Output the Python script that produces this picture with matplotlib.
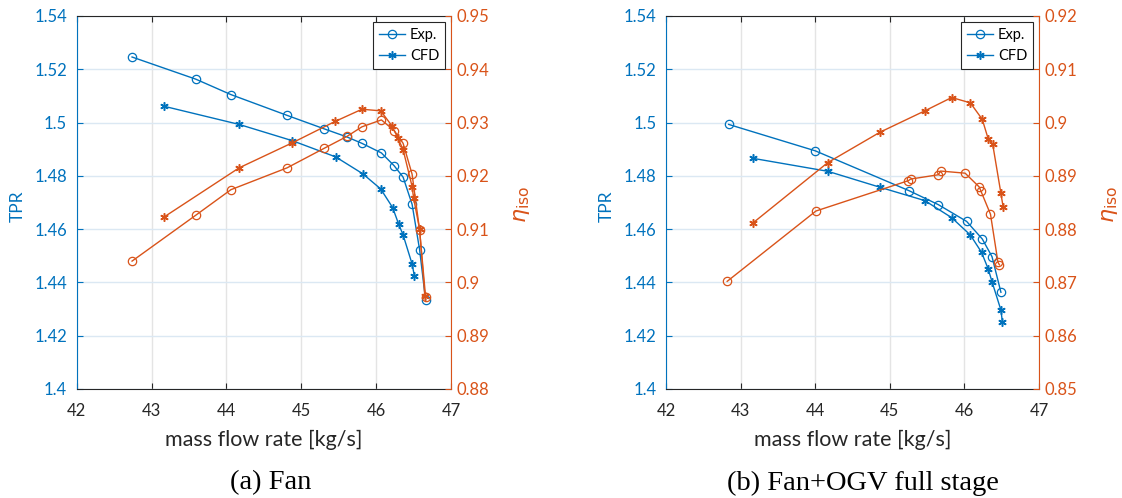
import matplotlib
matplotlib.use('Agg')
import matplotlib.pyplot as plt
from matplotlib.ticker import FuncFormatter, MultipleLocator

BLUE = '#0072BD'
ORANGE = '#D95319'
DARK = '#262626'

plt.rcParams['font.family'] = ['Lato', 'DejaVu Sans']
plt.rcParams['mathtext.fontset'] = 'dejavusans'

# (a) Fan
a_exp_x = [42.74, 43.59, 44.06, 44.81, 45.31, 45.61, 45.81, 46.07, 46.24, 46.36, 46.48, 46.58, 46.66]
a_exp_tpr = [1.5246, 1.5163, 1.5105, 1.5027, 1.4976, 1.4946, 1.4922, 1.4886, 1.4838, 1.4795, 1.4693, 1.4523, 1.4334]
a_exp_eta = [0.9040, 0.9126, 0.9174, 0.9215, 0.9252, 0.9274, 0.9292, 0.9305, 0.9285, 0.9261, 0.9203, 0.9098, 0.8973]
a_cfd_x = [43.17, 44.17, 44.88, 45.46, 45.82, 46.06, 46.22, 46.30, 46.36, 46.48, 46.51]
a_cfd_tpr = [1.5061, 1.4993, 1.4932, 1.4871, 1.4808, 1.4751, 1.4681, 1.4619, 1.4578, 1.4469, 1.4425]
a_cfd_eta_x = [43.17, 44.17, 44.88, 45.45, 45.81, 46.06, 46.21, 46.29, 46.36, 46.48, 46.50, 46.58, 46.65]
a_cfd_eta = [0.9123, 0.9215, 0.9262, 0.9302, 0.9325, 0.9322, 0.9294, 0.9271, 0.9249, 0.9180, 0.9158, 0.9100, 0.8975]

# (b) Fan+OGV full stage
b_exp_x = [42.84, 44.00, 45.26, 45.65, 46.03, 46.24, 46.37, 46.49]
b_exp_tpr = [1.4993, 1.4894, 1.4744, 1.4692, 1.4629, 1.4563, 1.4497, 1.4363]
b_exp_eta_x = [42.82, 44.01, 45.25, 45.28, 45.65, 45.68, 46.01, 46.20, 46.22, 46.35, 46.45, 46.47]
b_exp_eta = [0.8702, 0.8834, 0.8891, 0.8894, 0.8902, 0.8909, 0.8905, 0.8879, 0.8872, 0.8828, 0.8738, 0.8733]
b_cfd_x = [43.16, 44.17, 44.87, 45.47, 45.83, 46.08, 46.23, 46.32, 46.37, 46.49, 46.51]
b_cfd_tpr = [1.4866, 1.4817, 1.4757, 1.4707, 1.4643, 1.4578, 1.4513, 1.4450, 1.4403, 1.4296, 1.4250]
b_cfd_eta_x = [43.16, 44.17, 44.87, 45.47, 45.83, 46.08, 46.24, 46.32, 46.38, 46.49, 46.52]
b_cfd_eta = [0.8811, 0.8925, 0.8982, 0.9022, 0.9047, 0.9037, 0.9006, 0.8969, 0.8959, 0.8867, 0.8841]

gfmt = FuncFormatter(lambda v, pos: '%g' % round(v, 4))
circ = dict(marker='o', mfc='none', ms=6, mew=0.9, lw=1.0)
star = dict(marker=(6, 2, 0), ms=6, mew=1.1, lw=1.0)


def panel(fig, rect, caption, cap_x, ex, etpr, eex, eeta, cx, ctpr, cex, ceta, eta_lim):
    ax = fig.add_axes(rect)
    ax2 = ax.twinx()
    ax.set_xlim(42, 47)
    ax.set_ylim(1.4, 1.54)
    ax2.set_ylim(*eta_lim)
    ax.xaxis.set_major_locator(MultipleLocator(1))
    ax.yaxis.set_major_locator(MultipleLocator(0.02))
    ax2.yaxis.set_major_locator(MultipleLocator(0.01))
    ax.yaxis.set_major_formatter(gfmt)
    ax2.yaxis.set_major_formatter(gfmt)

    ax.set_axisbelow(True)
    ax.grid(axis='x', color='#e4e4e4', lw=1.0)
    ax.grid(axis='y', color='#dbe8f3', lw=1.0)

    l1, = ax.plot(ex, etpr, color=BLUE, label='Exp.', **circ)
    l2, = ax.plot(cx, ctpr, color=BLUE, label='CFD', **star)
    ax2.plot(eex, eeta, color=ORANGE, **circ)
    ax2.plot(cex, ceta, color=ORANGE, **star)

    for s in ['top', 'bottom']:
        ax.spines[s].set_color(DARK)
        ax2.spines[s].set_visible(False)
    ax.spines['left'].set_color(BLUE)
    ax.spines['right'].set_visible(False)
    ax2.spines['left'].set_visible(False)
    ax2.spines['right'].set_color(ORANGE)

    ax.tick_params(axis='x', direction='in', top=True, length=4, color=DARK,
                   labelcolor=DARK, labelsize=12, pad=10)
    ax.tick_params(axis='y', direction='in', length=4, color=BLUE,
                   labelcolor=BLUE, labelsize=12, pad=7)
    ax2.tick_params(axis='y', direction='in', length=4, color=ORANGE,
                    labelcolor=ORANGE, labelsize=12, pad=4)

    ax.set_xlabel('mass flow rate [kg/s]', fontsize=15.5, color=DARK, labelpad=8)
    ax.set_ylabel('TPR', fontsize=12.5, color=BLUE)
    ax.yaxis.set_label_coords(-0.137, 0.49)
    ax2.set_ylabel(r'$\eta_{\rm iso}$', fontsize=16, color=ORANGE)
    ax2.yaxis.set_label_coords(1.163, 0.495)

    leg = ax2.legend(handles=[l1, l2], loc='upper right', bbox_to_anchor=(0.984, 0.983),
                     fontsize=10.5, fancybox=False, framealpha=1, edgecolor=DARK,
                     handlelength=1.8, handletextpad=0.3, borderpad=0.4,
                     labelspacing=0.45, borderaxespad=0)
    leg.get_frame().set_linewidth(0.8)
    for t in leg.get_texts():
        t.set_color('black')

    fig.text(cap_x, 0.03, caption, ha='center', va='center', fontsize=20.5,
             family='Liberation Serif', color='black')


fig = plt.figure(figsize=(11.22, 4.98), dpi=100)
panel(fig, [0.0683, 0.2189, 0.3337, 0.749], '(a) Fan', 0.2415,
      a_exp_x, a_exp_tpr, a_exp_x, a_exp_eta,
      a_cfd_x, a_cfd_tpr, a_cfd_eta_x, a_cfd_eta, (0.88, 0.95))
panel(fig, [0.5936, 0.2189, 0.3324, 0.749], '(b) Fan+OGV full stage', 0.7687,
      b_exp_x, b_exp_tpr, b_exp_eta_x, b_exp_eta,
      b_cfd_x, b_cfd_tpr, b_cfd_eta_x, b_cfd_eta, (0.85, 0.92))

fig.savefig('out.png', dpi=100)
